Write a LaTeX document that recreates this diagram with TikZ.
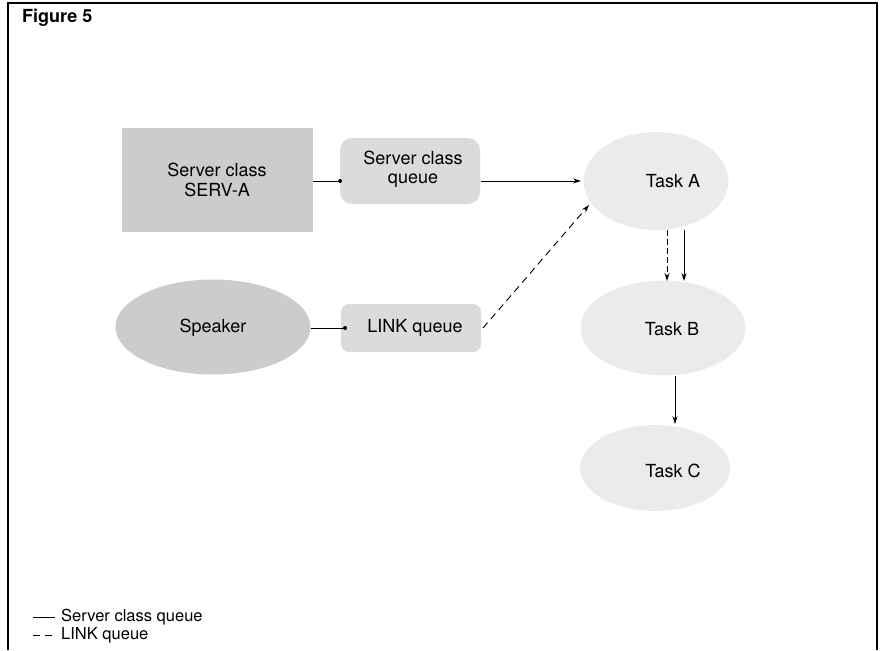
\documentclass[tikz,border=0pt]{standalone}
\usepackage{fontspec}
\setmainfont{TeX Gyre Heros}
\usetikzlibrary{arrows.meta,shapes.geometric}
\definecolor{stipdark}{gray}{0.80}
\definecolor{stipmid}{gray}{0.86}
\definecolor{stiplight}{gray}{0.92}
\tikzset{
  lbl/.style={font=\fontsize{18}{19.5}\selectfont, align=center, inner sep=0pt},
  legtxt/.style={anchor=west, inner sep=0pt, font=\fontsize{16.5}{18}\selectfont, text height=10pt, text depth=2pt},
  boxshape/.style={draw=none, rectangle, fill=stipdark},
  qshape/.style={draw=none, rectangle, rounded corners=12pt, fill=stipmid},
  taskshape/.style={draw=none, ellipse, fill=stiplight},
  conn/.style={line width=0.9pt},
  arr/.style={line width=0.9pt, -{Stealth[length=8pt,width=5pt]}},
  darr/.style={arr, dash pattern=on 7pt off 5pt},
  dotend/.style={circle, fill=black, inner sep=0pt, minimum size=4pt},
}
\begin{document}
\begin{tikzpicture}[x=1pt,y=-1pt]
\useasboundingbox (0,0) rectangle (882,650);
% frame
\draw[line width=1.1pt] (8,650) -- (8,3) -- (877,3) -- (877,650);
\node[anchor=north west, inner sep=0pt, font=\fontsize{18}{19}\selectfont\bfseries] (fig) at (22,9) {Figure 5};

% shapes
\node[boxshape, minimum width=191pt, minimum height=104pt] (servA) at (217,180) {};
\node[qshape, minimum width=140pt, minimum height=66pt] (servQ) at (410,171) {};
\node[ellipse, draw=none, fill=stipdark, minimum width=195pt, minimum height=95pt] (spk) at (213,327) {};
\node[qshape, rounded corners=8pt, minimum width=140pt, minimum height=48pt] (linkQ) at (411,328) {};
\node[taskshape, minimum width=145pt, minimum height=98pt] (taskA) at (656,181) {};
\node[taskshape, minimum width=165pt, minimum height=95pt] (taskB) at (663,328) {};
\node[taskshape, minimum width=150pt, minimum height=86pt] (taskC) at (655,468) {};

% labels
\node[lbl] (tServA) at (217,180) {Server class\\SERV-A};
\node[lbl] (tServQ) at (413,169) {Server class\\queue};
\node[lbl] (tSpk) at (213,328) {Speaker};
\node[lbl] (tLink) at (415,328) {LINK queue};
\node[lbl] (tA) at (673,181) {Task A};
\node[lbl] (tB) at (672,329) {Task B};
\node[lbl] (tC) at (673,471) {Task C};

% connectors
\node[dotend] (d1) at (340,181) {};
\draw[conn] (servA.east |- d1) -- (d1);
\node[dotend] (d2) at (345,328) {};
\draw[conn] (spk.east |- d2) -- (d2);
\coordinate (qAout) at (481,181);
\coordinate (aIn) at (581,181);
\draw[arr] (qAout) -- (aIn);
\coordinate (lOut) at (483,328);
\coordinate (aIn2) at (589,205);
\draw[darr] (lOut) -- (aIn2);
\coordinate (a1) at (667,230);
\coordinate (b1) at (667,281);
\draw[darr, dash pattern=on 6pt off 3pt] (a1) -- (b1);
\coordinate (a2) at (684,230);
\coordinate (b2) at (684,281);
\draw[arr] (a2) -- (b2);
\coordinate (b3) at (675,376);
\coordinate (c3) at (675,424);
\draw[arr, line width=0.7pt] (b3) -- (c3);

% legend
\coordinate (l1a) at (33,617);
\coordinate (l1b) at (55,617);
\draw[conn] (l1a) -- (l1b);
\node[legtxt] (leg1) at (61,617) {Server class queue};
\coordinate (l2a) at (33,635);
\coordinate (l2b) at (55,635);
\draw[conn, dash pattern=on 7pt off 5pt] (l2a) -- (l2b);
\node[legtxt] (leg2) at (61,635) {LINK queue};
\end{tikzpicture}
\end{document}
